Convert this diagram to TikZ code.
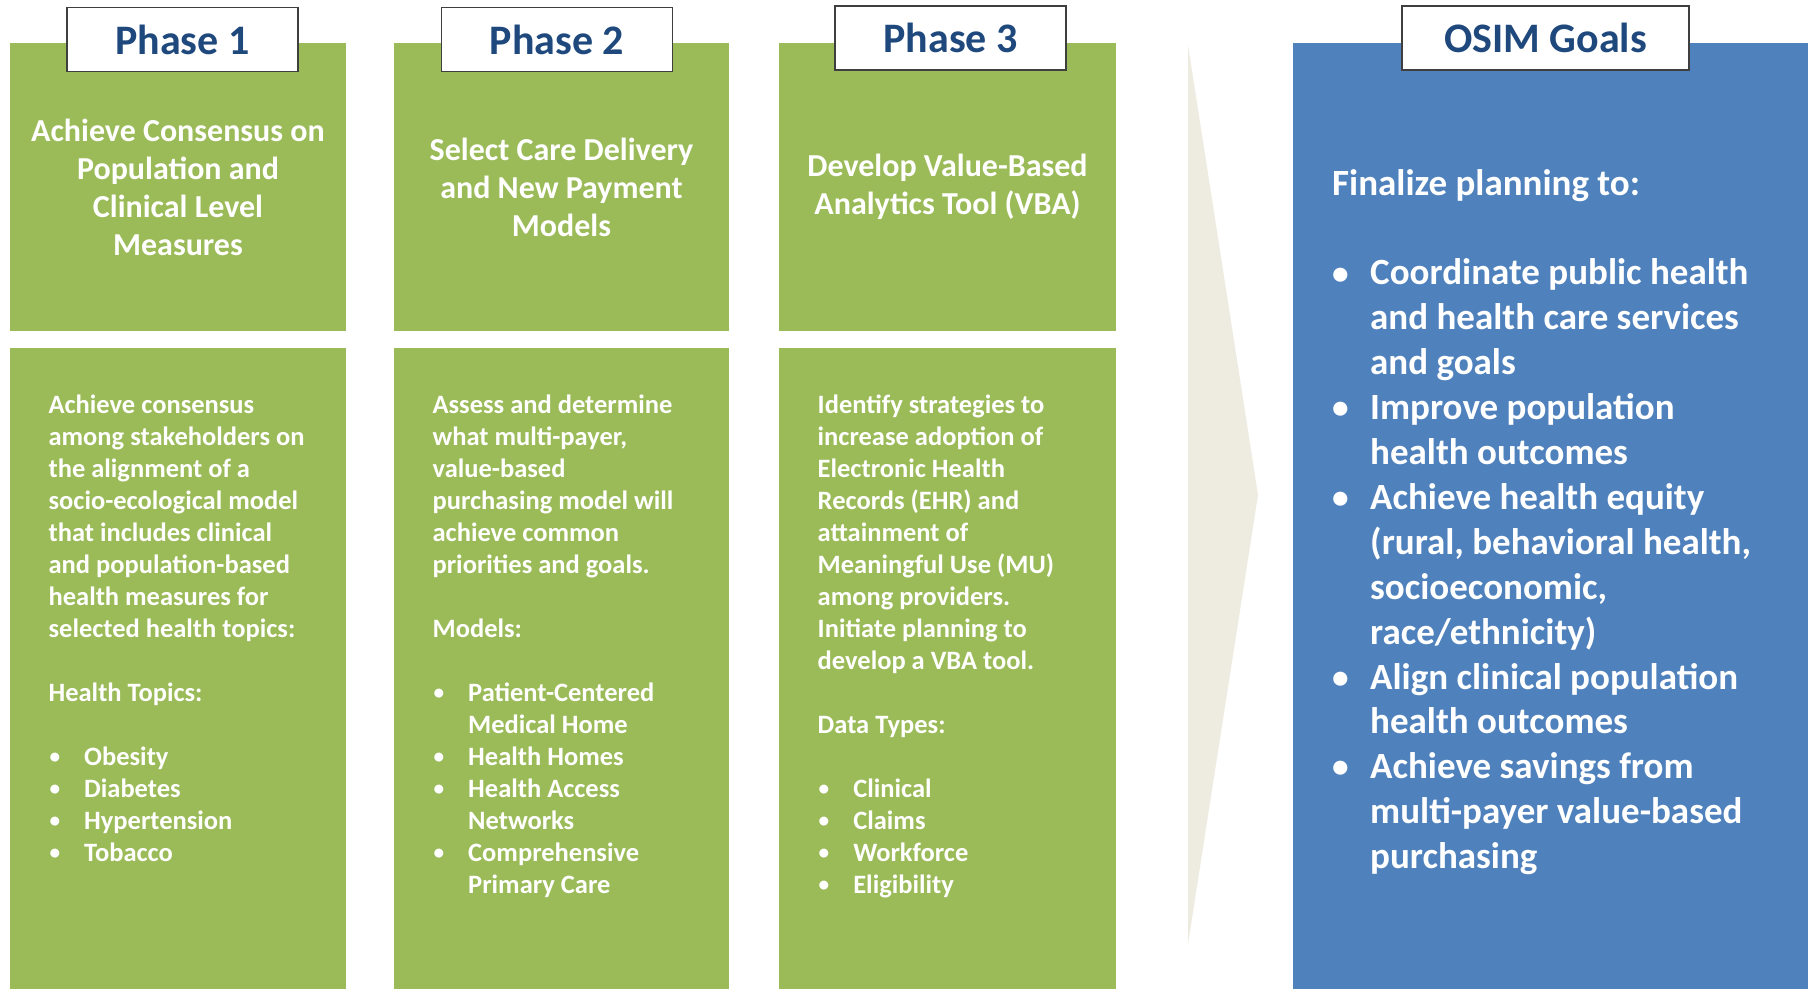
\documentclass[tikz,border=0pt]{standalone}
\usepackage{graphicx}
\usepackage{fontspec}
\setmainfont{Carlito}
\definecolor{boxgreen}{HTML}{9BBB59}
\definecolor{boxblue}{HTML}{4F81BD}
\definecolor{arrowfill}{HTML}{EEECE1}
\definecolor{labelblue}{HTML}{1F497D}
\definecolor{labelborder}{HTML}{3F3F3F}
\newcommand\gbul{\makebox[35.6pt][l]{\hspace{1pt}\raisebox{0.12ex}{\scalebox{0.8}{\textbullet}}}}
\newcommand\gind{\hspace*{35.6pt}}
\newcommand\bbul{\makebox[38pt][l]{\raisebox{0.05ex}{\scalebox{0.9}{\textbullet}}}}
\newcommand\bind{\hspace*{38pt}}
\begin{document}
\begin{tikzpicture}[x=1pt,y=-1pt,
  titletxt/.style={text=white, font=\fontsize{32}{38}\selectfont\bfseries, align=center, inner sep=0pt},
  bodytxt/.style={text=white, font=\fontsize{26.5}{32}\selectfont\bfseries, align=left, inner sep=0pt, anchor=north west},
  goaltxt/.style={text=white, font=\fontsize{37}{44.9}\selectfont\bfseries, align=left, inner sep=0pt, anchor=north west},
  phaselabel/.style={draw=labelborder, line width=1.2pt, fill=white, text=labelblue, font=\fontsize{42}{50}\selectfont\bfseries, inner sep=0pt, minimum height=64pt}
]
\useasboundingbox (0,0) rectangle (1808,989);
\fill[white] (0,0) rectangle (1808,989);

% green columns
\fill[boxgreen] (10,42.5) rectangle (346,331);
\fill[boxgreen] (10,348) rectangle (346,989);
\fill[boxgreen] (394,42.5) rectangle (729,331);
\fill[boxgreen] (394,348) rectangle (729,989);
\fill[boxgreen] (779,42.5) rectangle (1116,331);
\fill[boxgreen] (779,348) rectangle (1116,989);

% arrow
\fill[arrowfill] (1188,45) -- (1258,495) -- (1188,944) -- cycle;

% blue goals box
\fill[boxblue] (1293,42.5) rectangle (1808,989);

% labels
\node[phaselabel, minimum width=231pt] (l1) at (182.5,39.5) {Phase 1};
\node[phaselabel, minimum width=231pt] (l2) at (557,39.5) {Phase 2};
\node[phaselabel, minimum width=231pt] (l3) at (950.5,38) {Phase 3};
\node[phaselabel, minimum width=287pt] (l4) at (1545.5,38) {OSIM Goals};

% titles
\node[titletxt] (h1) at (178,187) {Achieve Consensus on\\Population and\\Clinical Level\\Measures};
\node[titletxt] (h2) at (561.5,187) {Select Care Delivery\\and New Payment\\Models};
\node[titletxt] (h3) at (947.5,187) {Develop Value-Based\\Analytics Tool (VBA)};

% body texts
\node[bodytxt] (b1) at (48.4,390.5) {\strut Achieve consensus\\among stakeholders on\\the alignment of a\\socio-ecological model\\that includes clinical\\and population-based\\health measures for\\selected health topics:\\[32pt]Health Topics:\\[32pt]\gbul Obesity\\\gbul Diabetes\\\gbul Hypertension\\\gbul Tobacco};

\node[bodytxt] (b2) at (432.4,390.5) {\strut Assess and determine\\what multi-payer,\\value-based\\purchasing model will\\achieve common\\priorities and goals.\\[32pt]Models:\\[32pt]\gbul Patient-Centered\\\gind Medical Home\\\gbul Health Homes\\\gbul Health Access\\\gind Networks\\\gbul Comprehensive\\\gind Primary Care};

\node[bodytxt] (b3) at (817.5,390.5) {\strut Identify strategies to\\increase adoption of\\Electronic Health\\Records (EHR) and\\attainment of\\Meaningful Use (MU)\\among providers.\\Initiate planning to\\develop a VBA tool.\\[32pt]Data Types:\\[32pt]\gbul Clinical\\\gbul Claims\\\gbul Workforce\\\gbul Eligibility};

\node[goaltxt] (g) at (1332,163.5) {\strut Finalize planning to:\\[44.9pt]\bbul Coordinate public health\\\bind and health care services\\\bind and goals\\\bbul Improve population\\\bind health outcomes\\\bbul Achieve health equity\\\bind (rural, behavioral health,\\\bind socioeconomic,\\\bind race/ethnicity)\\\bbul Align clinical population\\\bind health outcomes\\\bbul Achieve savings from\\\bind multi-payer value-based\\\bind purchasing};
\end{tikzpicture}
\end{document}
